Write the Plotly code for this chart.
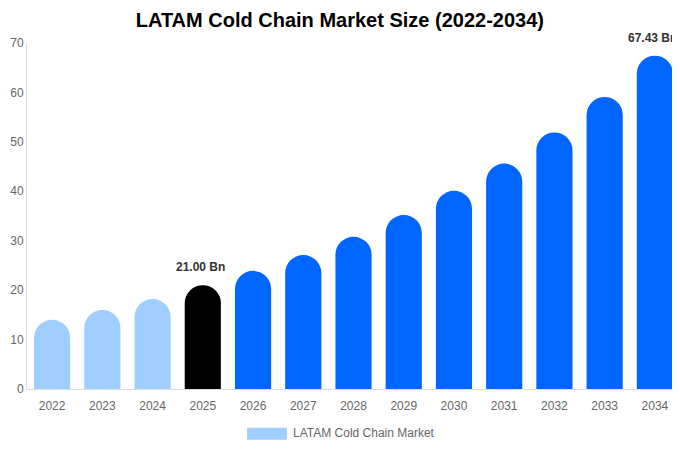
import plotly.graph_objects as go

# Market size, USD Bn
years = ["2022", "2023", "2024", "2025", "2026", "2027", "2028",
         "2029", "2030", "2031", "2032", "2033", "2034"]
market_size = [14.0, 16.0, 18.2, 21.0, 23.9, 27.1, 30.8,
               35.2, 40.1, 45.6, 51.9, 59.1, 67.43]
labelled_years = ["2025", "2034"]
series_name = "LATAM Cold Chain Market"

LIGHT = "#a0cfff"
BASE = "#000000"
BLUE = "#0066ff"

colors = []
for y in years:
    if int(y) < 2025:
        colors.append(LIGHT)
    elif y == "2025":
        colors.append(BASE)
    else:
        colors.append(BLUE)

fig = go.Figure(go.Bar(
    x=years,
    y=market_size,
    name=series_name,
    marker=dict(color=colors, cornerradius="50%", line=dict(width=0)),
    hovertemplate="%{x}: %{y:.2f} Bn<extra></extra>",
    showlegend=False))

# value labels above the base and forecast years
# (on a category axis annotations want the category index, not the label)
for yr in labelled_years:
    i = years.index(yr)
    v = market_size[i]
    fig.add_annotation(x=i, y=v, text="<b>%.2f Bn</b>" % v,
                       showarrow=False, yanchor="bottom", yshift=9, xshift=-2,
                       font=dict(size=12, color="#333333"))

# legend drawn by hand so the swatch is a wide bar like the original
fig.add_shape(type="rect", xref="paper", yref="paper",
              x0=0.337, x1=0.398, y0=-0.112, y1=-0.147,
              fillcolor=LIGHT, line=dict(width=0))
fig.add_annotation(xref="paper", yref="paper", x=0.405, y=-0.128,
                   text=series_name, showarrow=False,
                   xanchor="left", yanchor="middle",
                   font=dict(size=12, color="#666666"))

# the page body adds an 8px margin, so the margins below are shifted to suit
fig.update_layout(
    title=dict(text="<b>LATAM Cold Chain Market Size (2022-2034)</b>",
               x=0.488, xanchor="center", y=0.973, yanchor="middle",
               font=dict(size=20, color="#000000")),
    width=680, height=450,
    margin=dict(l=19, r=8, t=35, b=69),
    font=dict(family="Liberation Sans, Arial, sans-serif", size=12, color="#666666"),
    paper_bgcolor="white", plot_bgcolor="white",
    bargap=0.28,
    xaxis=dict(type="category", showgrid=False, showline=True,
               linecolor="#dddddd", linewidth=1, ticks="", automargin=False,
               ticklabelstandoff=6, tickfont=dict(size=12, color="#666666")),
    yaxis=dict(range=[0, 70], dtick=10, showgrid=False, zeroline=False,
               showline=True, linecolor="#dddddd", linewidth=1, automargin=False,
               ticks="", ticklabelstandoff=0, tickfont=dict(size=12, color="#666666")),
)

fig.write_html("out.html")
